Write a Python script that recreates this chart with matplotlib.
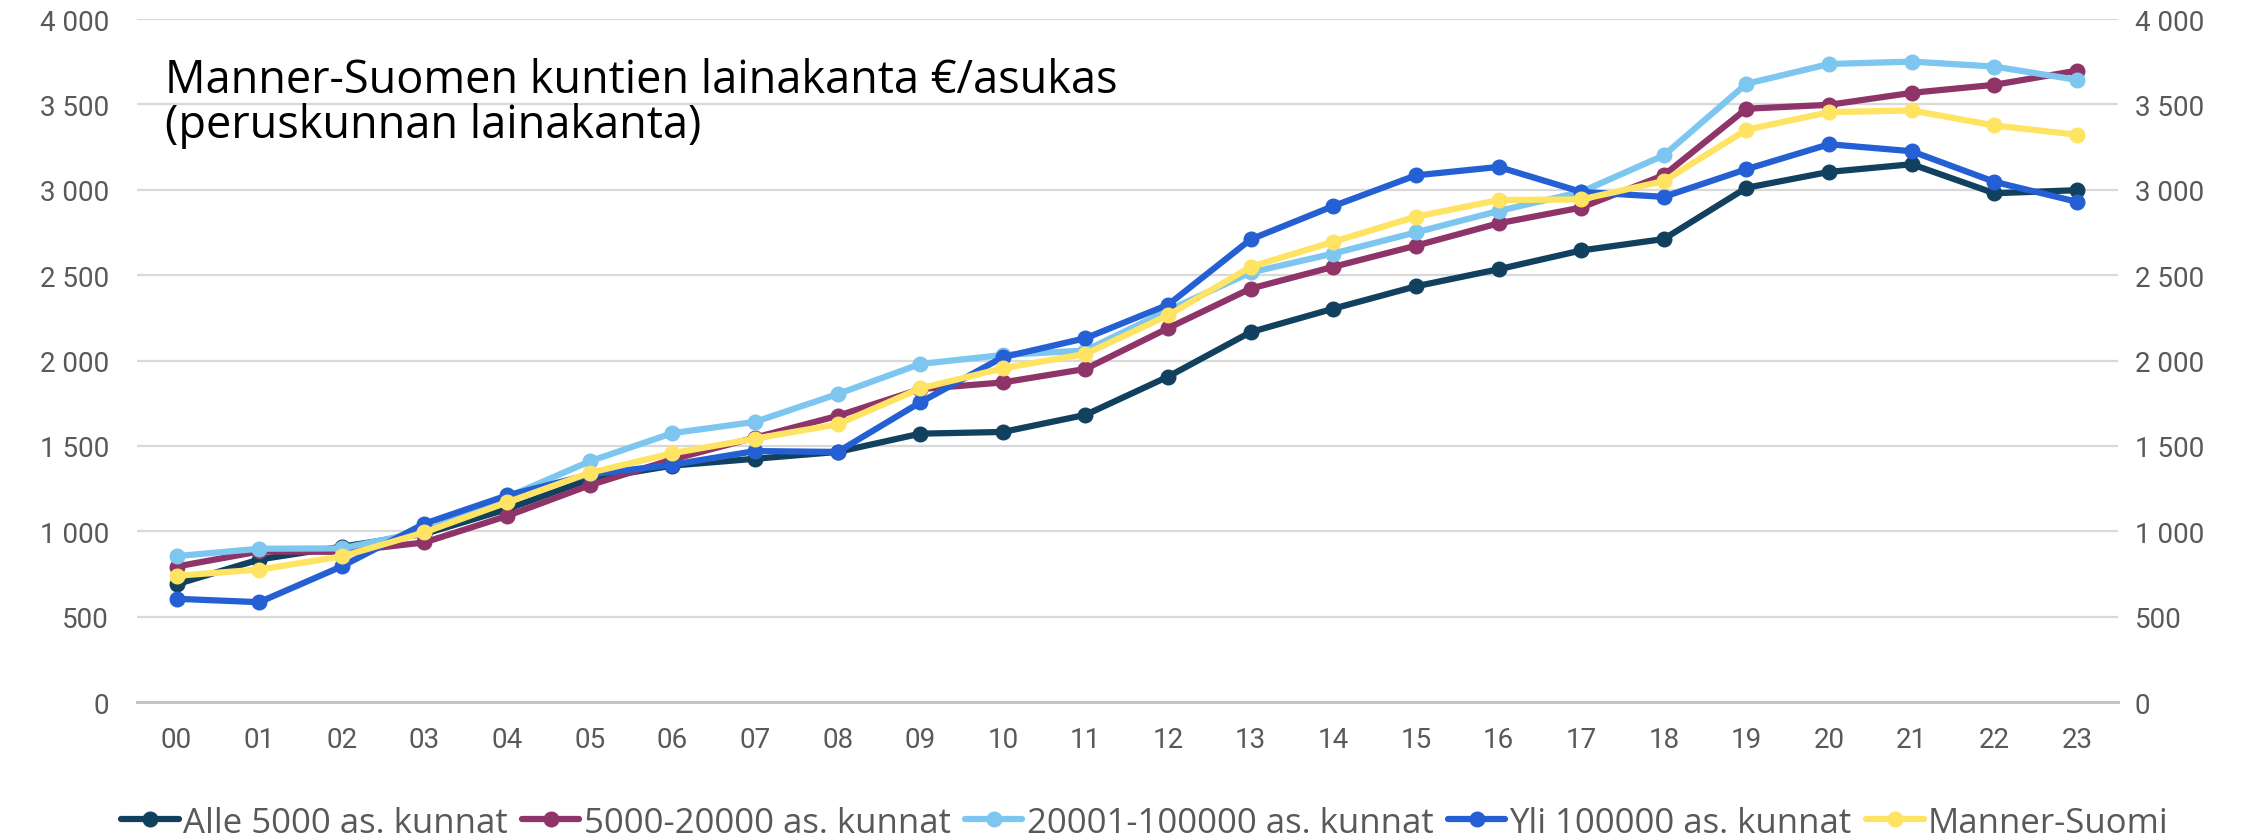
import matplotlib.pyplot as plt
import numpy as np

years = ['00', '01', '02', '03', '04', '05', '06', '07', '08', '09', '10', '11',
         '12', '13', '14', '15', '16', '17', '18', '19', '20', '21', '22', '23']

alle_5000 = [690, 835, 910, 985, 1130, 1305, 1385, 1425, 1465, 1572, 1582, 1682,
             1906, 2167, 2304, 2435, 2535, 2645, 2712, 3012, 3105, 3150, 2980, 2998]
k5000_20000 = [794, 882, 880, 935, 1090, 1270, 1421, 1549, 1676, 1833, 1872, 1951,
               2190, 2422, 2549, 2673, 2804, 2896, 3086, 3475, 3498, 3568, 3615, 3698]
k20001_100000 = [855, 898, 900, 1000, 1200, 1410, 1575, 1641, 1804, 1980, 2033, 2059,
                 2294, 2516, 2627, 2751, 2876, 2988, 3202, 3621, 3737, 3751, 3722, 3644]
yli_100000 = [605, 585, 795, 1045, 1210, 1333, 1390, 1470, 1465, 1755, 2020, 2131,
              2327, 2710, 2905, 3085, 3134, 2988, 2959, 3121, 3267, 3226, 3047, 2930]
manner_suomi = [740, 776, 853, 994, 1170, 1343, 1457, 1543, 1627, 1837, 1955, 2039,
                2265, 2549, 2696, 2843, 2940, 2944, 3051, 3352, 3455, 3465, 3377, 3323]

series = [
    ('Alle 5000 as. kunnat', alle_5000, '#12405f'),
    ('5000-20000 as. kunnat', k5000_20000, '#8e3468'),
    ('20001-100000 as. kunnat', k20001_100000, '#7dc6f0'),
    ('Yli 100000 as. kunnat', yli_100000, '#2460d4'),
    ('Manner-Suomi', manner_suomi, '#ffe362'),
]

plt.rcParams['font.family'] = ['Roboto', 'DejaVu Sans']

fig = plt.figure(figsize=(22.67, 8.37), dpi=100)
ax = fig.add_axes([0.0604, 0.160, 0.874, 0.816])

x = np.arange(len(years))
for label, vals, color in series:
    ax.plot(x, vals, color=color, lw=4.5, marker='o', ms=10.5, label=label,
            solid_capstyle='round')

yticks = np.arange(0, 4001, 500)
ylabels = [f'{v:,}'.replace(',', ' ') for v in yticks]
ax.set_ylim(0, 4000)
ax.set_xlim(-0.48, 23.5)
ax.set_yticks(yticks)
ax.set_yticklabels(ylabels)
ax.set_xticks(x)
ax.set_xticklabels(years)
ax.grid(axis='y', color='#d9d9d9', lw=1.6)
ax.set_axisbelow(True)
for s in ['top', 'right', 'left']:
    ax.spines[s].set_visible(False)
ax.spines['bottom'].set_color('#c4c4c4')
ax.spines['bottom'].set_linewidth(2.2)
ax.tick_params(axis='y', length=0, labelsize=20, labelcolor='#595959', pad=20)
ax.tick_params(axis='x', length=0, labelsize=20, labelcolor='#595959', pad=17)

ax2 = ax.twinx()
ax2.set_ylim(0, 4000)
ax2.set_yticks(yticks)
ax2.set_yticklabels(ylabels)
for s in ax2.spines.values():
    s.set_visible(False)
ax2.tick_params(axis='y', length=0, labelsize=20, labelcolor='#595959', pad=12)

# otsikko kahdella rivillä
fig.text(0.0726, 0.889, 'Manner-Suomen kuntien lainakanta €/asukas',
         fontsize=32.5, family=['Open Sans', 'DejaVu Sans'], color='black', va='baseline')
fig.text(0.0726, 0.835, '(peruskunnan lainakanta)',
         fontsize=32.5, family=['Open Sans', 'DejaVu Sans'], color='black', va='baseline')

fig.legend(loc='center', bbox_to_anchor=(0.505, 0.016), ncol=5, frameon=False,
           prop={'family': ['Open Sans', 'DejaVu Sans'], 'size': 25},
           handlelength=1.65, handletextpad=0.12, columnspacing=0.42,
           labelcolor='#595959')

fig.savefig('out.png', dpi=100)
